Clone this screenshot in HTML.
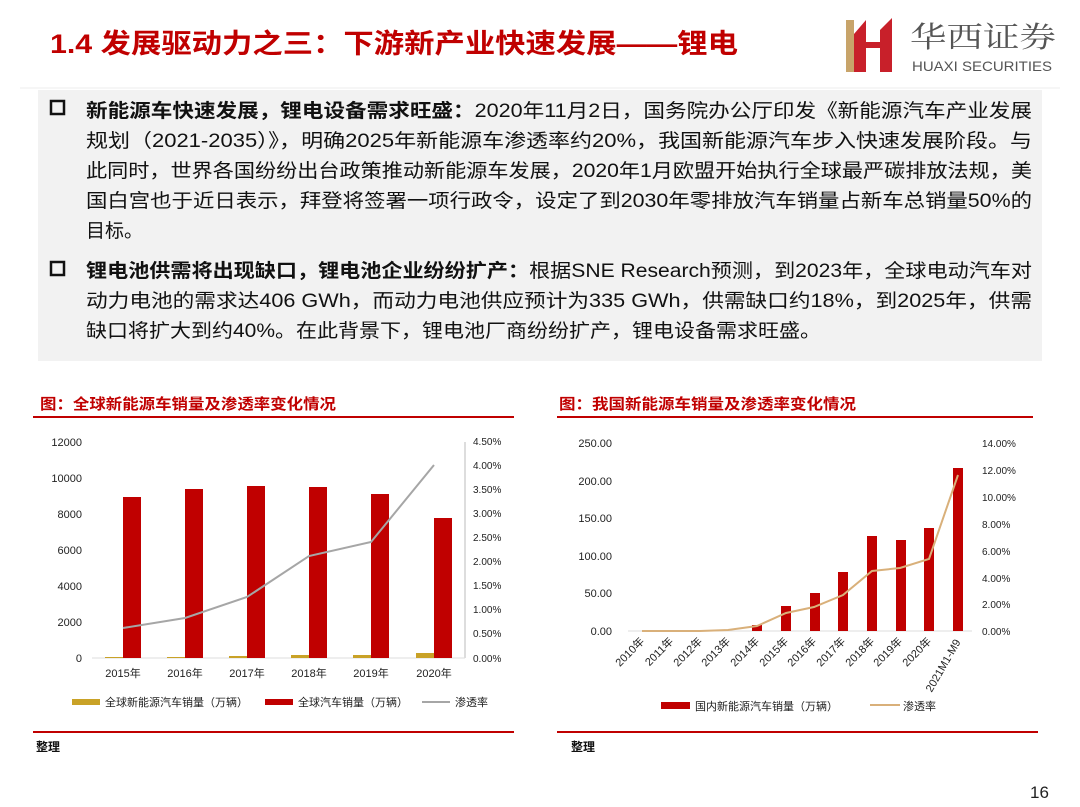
<!DOCTYPE html>
<html><head><meta charset="utf-8"><style>
html,body{margin:0;padding:0;background:#fff;}
svg{display:block;font-family:"Liberation Sans","Noto Sans CJK SC",sans-serif;}
</style></head><body>
<svg width="1080" height="807" viewBox="0 0 1080 807" xmlns="http://www.w3.org/2000/svg">
<rect width="1080" height="807" fill="#fff"/>
<!-- header -->
<text x="50" y="53" font-size="27" font-weight="bold" fill="#c00000" textLength="688" lengthAdjust="spacingAndGlyphs">1.4 发展驱动力之三：下游新产业快速发展——锂电</text>
<rect x="846" y="20" width="8" height="52" fill="#c8a46a"/>
<polygon points="854,34 866,20 866,72 854,72" fill="#c8202a"/>
<rect x="866" y="42" width="14" height="6" fill="#c8202a"/>
<polygon points="880,30 892,18 892,72 880,72" fill="#c8202a"/>
<text x="910" y="47" font-size="29" font-family="Noto Serif CJK SC,serif" fill="#555" textLength="146" lengthAdjust="spacingAndGlyphs">华西证券</text>
<text x="912" y="71" font-size="14" fill="#555" textLength="140" lengthAdjust="spacingAndGlyphs">HUAXI SECURITIES</text>
<line x1="20" y1="88" x2="1060" y2="88" stroke="#eee" stroke-width="1"/>
<!-- text box -->
<rect x="38" y="90" width="1004" height="271" fill="#f2f2f2"/>
<g font-size="19" fill="#111">
<rect x="51" y="101" width="13" height="13" fill="none" stroke="#111" stroke-width="2.5"/>
<text x="86" y="117" textLength="946" lengthAdjust="spacingAndGlyphs"><tspan font-weight="bold">新能源车快速发展，锂电设备需求旺盛：</tspan>2020年11月2日，国务院办公厅印发《新能源汽车产业发展</text>
<text x="86" y="147" textLength="946" lengthAdjust="spacingAndGlyphs">规划（2021-2035）》，明确2025年新能源车渗透率约20%，我国新能源汽车步入快速发展阶段。与</text>
<text x="86" y="177" textLength="946" lengthAdjust="spacingAndGlyphs">此同时，世界各国纷纷出台政策推动新能源车发展，2020年1月欧盟开始执行全球最严碳排放法规，美</text>
<text x="86" y="207" textLength="946" lengthAdjust="spacingAndGlyphs">国白宫也于近日表示，拜登将签署一项行政令，设定了到2030年零排放汽车销量占新车总销量50%的</text>
<text x="86" y="237">目标。</text>
<rect x="51" y="262" width="13" height="13" fill="none" stroke="#111" stroke-width="2.5"/>
<text x="86" y="277" textLength="946" lengthAdjust="spacingAndGlyphs"><tspan font-weight="bold">锂电池供需将出现缺口，锂电池企业纷纷扩产：</tspan>根据SNE Research预测，到2023年，全球电动汽车对</text>
<text x="86" y="307" textLength="946" lengthAdjust="spacingAndGlyphs">动力电池的需求达406 GWh，而动力电池供应预计为335 GWh，供需缺口约18%，到2025年，供需</text>
<text x="86" y="337" textLength="735" lengthAdjust="spacingAndGlyphs">缺口将扩大到约40%。在此背景下，锂电池厂商纷纷扩产，锂电设备需求旺盛。</text>
</g>
<!-- left chart -->
<text x="40" y="409" font-size="15" font-weight="bold" fill="#c00000" textLength="296" lengthAdjust="spacingAndGlyphs">图：全球新能源车销量及渗透率变化情况</text>
<line x1="33" y1="417" x2="514" y2="417" stroke="#c00000" stroke-width="2"/>
<g font-size="11" fill="#222" text-anchor="end">
<text x="82" y="446">12000</text><text x="82" y="482">10000</text><text x="82" y="518">8000</text>
<text x="82" y="554">6000</text><text x="82" y="590">4000</text><text x="82" y="626">2000</text><text x="82" y="662">0</text>
</g>
<g font-size="10" fill="#222">
<text x="473" y="445">4.50%</text><text x="473" y="469">4.00%</text><text x="473" y="493">3.50%</text>
<text x="473" y="517">3.00%</text><text x="473" y="541">2.50%</text><text x="473" y="565">2.00%</text>
<text x="473" y="589">1.50%</text><text x="473" y="613">1.00%</text><text x="473" y="637">0.50%</text><text x="473" y="662">0.00%</text>
</g>
<line x1="465" y1="442" x2="465" y2="658" stroke="#bbb"/>
<line x1="92" y1="658" x2="465" y2="658" stroke="#ddd"/>
<g fill="#c00000">
<rect x="123" y="497" width="18" height="161"/><rect x="185" y="489" width="18" height="169"/>
<rect x="247" y="486" width="18" height="172"/><rect x="309" y="487" width="18" height="171"/>
<rect x="371" y="494" width="18" height="164"/><rect x="434" y="518" width="18" height="140"/>
</g>
<g fill="#c9a227">
<rect x="105" y="657" width="18" height="1"/><rect x="167" y="657" width="18" height="1"/>
<rect x="229" y="656" width="18" height="2"/><rect x="291" y="655" width="18" height="3"/>
<rect x="353" y="655" width="18" height="3"/><rect x="416" y="653" width="18" height="5"/>
</g>
<polyline points="123,628 185,618 247,597 309,556 371,542 434,465" fill="none" stroke="#a6a6a6" stroke-width="2"/>
<g font-size="11" fill="#222" text-anchor="middle">
<text x="123" y="677">2015年</text><text x="185" y="677">2016年</text><text x="247" y="677">2017年</text>
<text x="309" y="677">2018年</text><text x="371" y="677">2019年</text><text x="434" y="677">2020年</text>
</g>
<rect x="72" y="699" width="28" height="6" fill="#c9a227"/>
<text x="105" y="706" font-size="11" fill="#222">全球新能源汽车销量（万辆）</text>
<rect x="265" y="699" width="28" height="6" fill="#c00000"/>
<text x="298" y="706" font-size="11" fill="#222">全球汽车销量（万辆）</text>
<line x1="422" y1="702" x2="450" y2="702" stroke="#a6a6a6" stroke-width="2"/>
<text x="455" y="706" font-size="11" fill="#222">渗透率</text>
<line x1="33" y1="732" x2="514" y2="732" stroke="#c00000" stroke-width="2"/>
<text x="36" y="751" font-size="12" font-weight="bold" fill="#111">整理</text>
<!-- right chart -->
<text x="559" y="409" font-size="15" font-weight="bold" fill="#c00000" textLength="297" lengthAdjust="spacingAndGlyphs">图：我国新能源车销量及渗透率变化情况</text>
<line x1="557" y1="417" x2="1033" y2="417" stroke="#c00000" stroke-width="2"/>
<g font-size="11" fill="#222" text-anchor="end">
<text x="612" y="447">250.00</text><text x="612" y="485">200.00</text><text x="612" y="522">150.00</text>
<text x="612" y="560">100.00</text><text x="612" y="597">50.00</text><text x="612" y="635">0.00</text>
</g>
<g font-size="10" fill="#222">
<text x="982" y="447">14.00%</text><text x="982" y="474">12.00%</text><text x="982" y="501">10.00%</text>
<text x="982" y="528">8.00%</text><text x="982" y="555">6.00%</text><text x="982" y="582">4.00%</text>
<text x="982" y="608">2.00%</text><text x="982" y="635">0.00%</text>
</g>
<line x1="628" y1="631" x2="972" y2="631" stroke="#ddd"/>
<g fill="#c00000">
<rect x="752" y="625" width="10" height="6"/><rect x="781" y="606" width="10" height="25"/>
<rect x="810" y="593" width="10" height="38"/><rect x="838" y="572" width="10" height="59"/>
<rect x="867" y="536" width="10" height="95"/><rect x="896" y="540" width="10" height="91"/>
<rect x="924" y="528" width="10" height="103"/><rect x="953" y="468" width="10" height="163"/>
</g>
<polyline points="642,631 671,631 700,631 728,630 757,626 786,613 814,607 843,595 872,571 900,568 929,559 958,475" fill="none" stroke="#d9b07a" stroke-width="2"/>
<g font-size="11" fill="#222" text-anchor="end">
<text transform="translate(645,642) rotate(-45)">2010年</text>
<text transform="translate(674,642) rotate(-45)">2011年</text>
<text transform="translate(703,642) rotate(-45)">2012年</text>
<text transform="translate(731,642) rotate(-45)">2013年</text>
<text transform="translate(760,642) rotate(-45)">2014年</text>
<text transform="translate(789,642) rotate(-45)">2015年</text>
<text transform="translate(817,642) rotate(-45)">2016年</text>
<text transform="translate(846,642) rotate(-45)">2017年</text>
<text transform="translate(875,642) rotate(-45)">2018年</text>
<text transform="translate(903,642) rotate(-45)">2019年</text>
<text transform="translate(932,642) rotate(-45)">2020年</text>
<text transform="translate(961,642) rotate(-60)">2021M1-M9</text>
</g>
<rect x="661" y="702" width="29" height="7" fill="#c00000"/>
<text x="695" y="710" font-size="11" fill="#222">国内新能源汽车销量（万辆）</text>
<line x1="870" y1="705" x2="900" y2="705" stroke="#d9b07a" stroke-width="2"/>
<text x="903" y="710" font-size="11" fill="#222">渗透率</text>
<line x1="557" y1="732" x2="1038" y2="732" stroke="#c00000" stroke-width="2"/>
<text x="571" y="751" font-size="12" font-weight="bold" fill="#111">整理</text>
<text x="1030" y="798" font-size="17" fill="#222">16</text>
</svg>
</body></html>
